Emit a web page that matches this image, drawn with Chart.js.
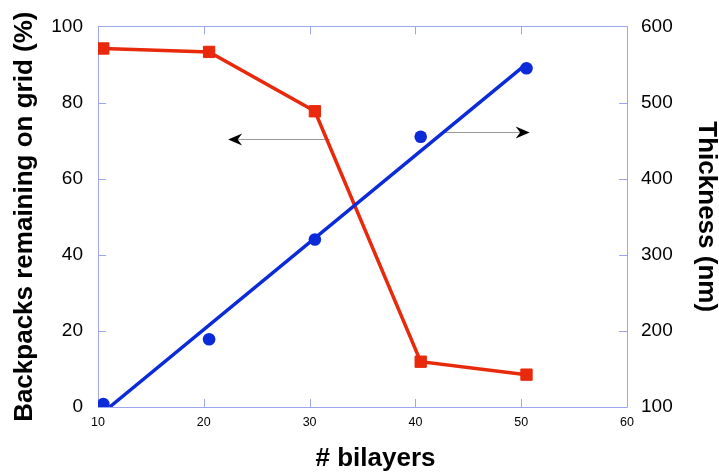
<!DOCTYPE html>
<html>
<head>
<meta charset="utf-8">
<script src="https://cdn.jsdelivr.net/npm/chart.js@4/dist/chart.umd.min.js"></script>
<style>
  html, body { margin: 0; padding: 0; background: #ffffff; }
  #wrap { width: 719px; height: 473px; }
</style>
</head>
<body>
<div id="wrap"><canvas id="c" width="719" height="473"></canvas></div>
<script>
// Number of deposited bilayers for each sample
const bilayers = [10.5, 20.5, 30.5, 40.5, 50.5];
// Backpacks still on the grid (%), left axis
const remaining = [94.2, 93.3, 77.7, 11.9, 8.5];
// Measured film thickness (nm), right axis
const thickness = [104, 189, 320, 455, 545];
// Linear fit of thickness vs bilayers (end points)
const fitBilayers = [11.1, 50.1];
const fitThickness = [100, 546.3];

// Axis ticks
const xTicks = [10, 20, 30, 40, 50, 60];
const leftTicks = [0, 20, 40, 60, 80, 100];
const rightTicks = [100, 200, 300, 400, 500, 600];

// Arrows pointing each curve to its axis (bilayers, % on left axis)
const arrowLeft = { fromX: 31.9, toX: 22.3, y: 70.5 };
const arrowRight = { fromX: 42.4, toX: 50.8, y: 72.3 };

const xTitle = '# bilayers';
const leftTitle = 'Backpacks remaining on grid (%)';
const rightTitle = 'Thickness (nm)';

const FONT = '"Liberation Sans", Arial, Helvetica, sans-serif';
const RED = '#e8290b';
const BLUE = '#0b2bd9';
const FRAME = '#9ca6f0';

const toXY = (xs, ys) => xs.map((x, i) => ({ x: x, y: ys[i] }));

// Frame, inward tick marks and the two arrows, drawn under the data
const framePlugin = {
  id: 'frame',
  beforeDatasetsDraw(chart) {
    const { ctx, chartArea: a, scales } = chart;
    const xs = scales.x, yl = scales.yLeft, yr = scales.yRight;
    const len = 8;
    ctx.save();
    ctx.strokeStyle = FRAME;
    ctx.lineWidth = 1;
    ctx.beginPath();
    ctx.rect(Math.round(a.left) + 0.5, Math.round(a.top) + 0.5,
             Math.round(a.right - a.left), Math.round(a.bottom - a.top));
    xTicks.forEach(v => {
      const px = Math.round(xs.getPixelForValue(v)) + 0.5;
      ctx.moveTo(px, a.bottom); ctx.lineTo(px, a.bottom - len);
      ctx.moveTo(px, a.top); ctx.lineTo(px, a.top + len);
    });
    leftTicks.forEach(v => {
      const py = Math.round(yl.getPixelForValue(v)) + 0.5;
      ctx.moveTo(a.left, py); ctx.lineTo(a.left + len, py);
    });
    rightTicks.forEach(v => {
      const py = Math.round(yr.getPixelForValue(v)) + 0.5;
      ctx.moveTo(a.right, py); ctx.lineTo(a.right - len, py);
    });
    ctx.stroke();

    // arrows
    [arrowLeft, arrowRight].forEach(ar => {
      const x0 = xs.getPixelForValue(ar.fromX);
      const x1 = xs.getPixelForValue(ar.toX);
      const py = Math.round(yl.getPixelForValue(ar.y)) + 0.5;
      const dir = x1 > x0 ? 1 : -1;
      ctx.strokeStyle = '#9a9a9a';
      ctx.lineWidth = 1;
      ctx.beginPath();
      ctx.moveTo(x0, py);
      ctx.lineTo(x1 - dir * 6, py);
      ctx.stroke();
      const L = 14, h = 6;
      ctx.fillStyle = '#000000';
      ctx.beginPath();
      ctx.moveTo(x1, py);
      ctx.lineTo(x1 - dir * L, py - h);
      ctx.lineTo(x1 - dir * L * 0.68, py);
      ctx.lineTo(x1 - dir * L, py + h);
      ctx.closePath();
      ctx.fill();
    });
    ctx.restore();
  },
  afterDraw(chart) {
    const { ctx, chartArea: a } = chart;
    ctx.save();
    ctx.fillStyle = '#000000';
    ctx.font = 'bold 26px ' + FONT;
    ctx.textAlign = 'center';
    ctx.textBaseline = 'alphabetic';
    ctx.fillText(xTitle, (a.left + a.right) / 2 + 13, chart.height - 7);
    ctx.restore();
  }
};

new Chart(document.getElementById('c'), {
  type: 'scatter',
  data: {
    datasets: [
      {
        label: 'Thickness',
        data: toXY(bilayers, thickness),
        yAxisID: 'yRight',
        showLine: false,
        pointStyle: 'circle',
        pointRadius: 6.3,
        pointBorderWidth: 0,
        backgroundColor: BLUE,
        borderColor: BLUE
      },
      {
        label: 'Thickness fit',
        data: toXY(fitBilayers, fitThickness),
        yAxisID: 'yRight',
        showLine: true,
        borderColor: BLUE,
        borderWidth: 3.5,
        pointRadius: 0
      },
      {
        label: 'Backpacks remaining',
        data: toXY(bilayers, remaining),
        yAxisID: 'yLeft',
        showLine: true,
        borderColor: RED,
        backgroundColor: RED,
        borderWidth: 3.5,
        pointStyle: 'rect',
        pointRadius: 8,
        pointBorderWidth: 1,
        pointBorderColor: RED,
        pointBackgroundColor: RED
      }
    ]
  },
  options: {
    responsive: false,
    devicePixelRatio: 1,
    animation: false,
    layout: { padding: { top: 25, left: 0, right: 0, bottom: 0 } },
    plugins: {
      legend: { display: false },
      tooltip: { enabled: false }
    },
    scales: {
      x: {
        type: 'linear',
        min: 10, max: 60,
        afterBuildTicks(s) { s.ticks = xTicks.map(v => ({ value: v })); },
        afterFit(s) { s.height = 66; },
        grid: { display: false, drawTicks: false },
        border: { display: false },
        ticks: { color: '#000', font: { family: FONT, size: 12.5 }, padding: 8.5, maxRotation: 0 },
        title: { display: false, text: xTitle }
      },
      yLeft: {
        type: 'linear',
        position: 'left',
        min: 0, max: 100,
        afterBuildTicks(s) { s.ticks = leftTicks.map(v => ({ value: v })); },
        afterFit(s) { s.width = 98; },
        grid: { display: false, drawTicks: false },
        border: { display: false },
        ticks: { color: '#000', font: { family: FONT, size: 19 }, padding: 15 },
        title: {
          display: true, text: leftTitle, color: '#000',
          font: { family: FONT, size: 26, weight: 'bold', lineHeight: 1 },
          padding: { top: 12, bottom: 0 }
        }
      },
      yRight: {
        type: 'linear',
        position: 'right',
        min: 100, max: 600,
        afterBuildTicks(s) { s.ticks = rightTicks.map(v => ({ value: v })); },
        afterFit(s) { s.width = 92; },
        grid: { display: false, drawTicks: false },
        border: { display: false },
        ticks: { color: '#000', font: { family: FONT, size: 19 }, padding: 14 },
        title: {
          display: true, text: rightTitle, color: '#000',
          font: { family: FONT, size: 26, weight: 'bold', lineHeight: 1 },
          padding: { top: 0, bottom: 0 }
        }
      }
    }
  },
  plugins: [framePlugin]
});
</script>
</body>
</html>
